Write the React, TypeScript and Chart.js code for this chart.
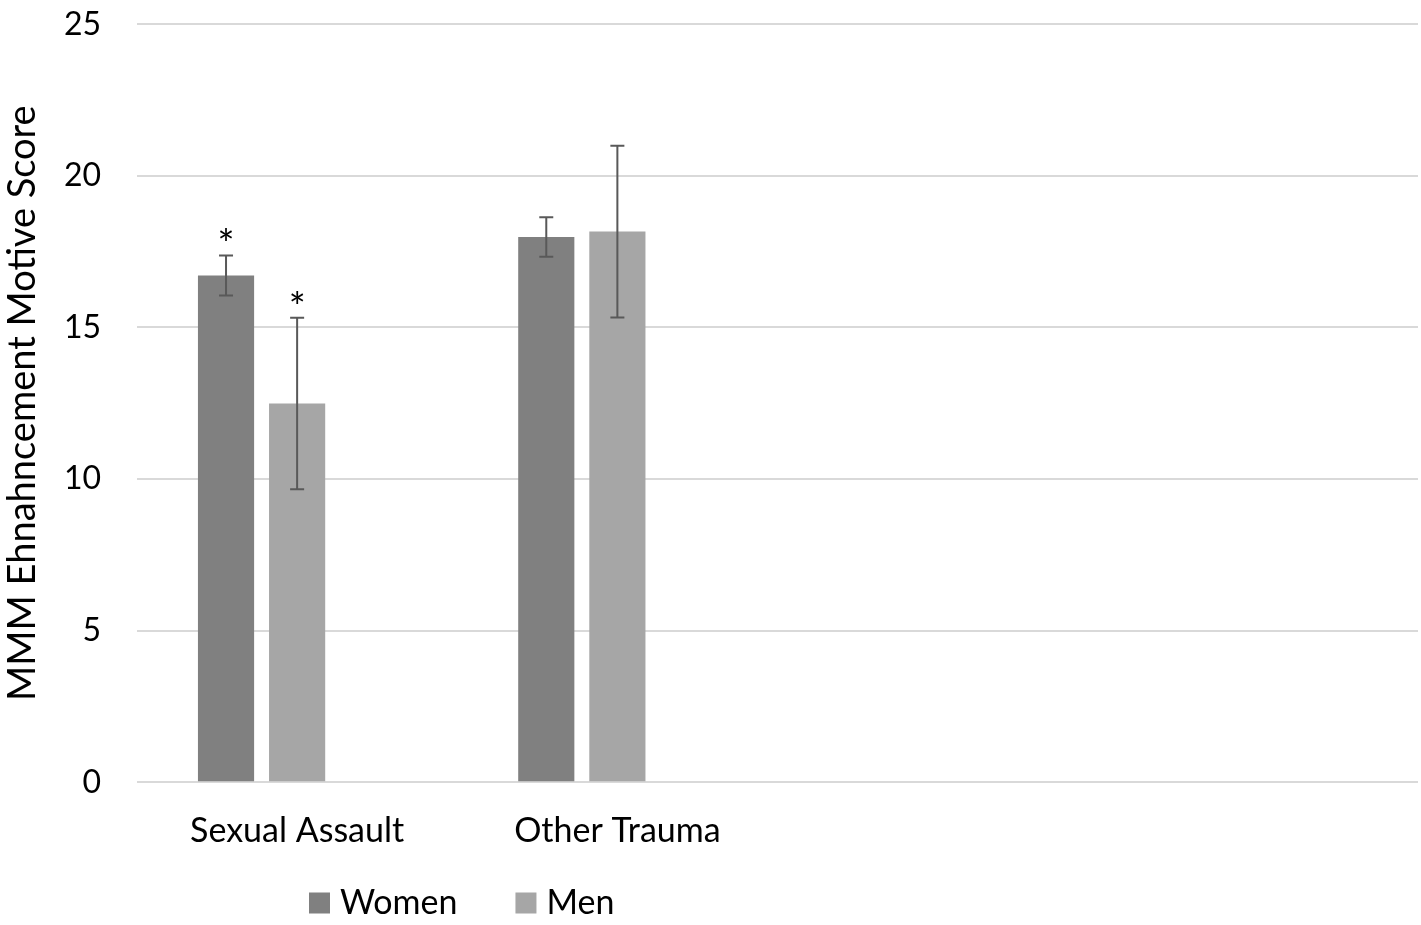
import { useEffect, useRef } from 'react'
import { Chart, registerables, Plugin } from 'chart.js'

Chart.register(...registerables)

const categories = ['Sexual Assault', 'Other Trauma', '', '']
const women = [16.71, 17.98, null, null]
const men = [12.49, 18.16, null, null]
const womenErr = [0.66, 0.65, 0, 0]
const menErr = [2.83, 2.83, 0, 0]
const womenSig = ['*', '', '', '']
const menSig = ['*', '', '', '']
const yTicks = [0, 5, 10, 15, 20, 25]

const FONT = 'Lato, "Open Sans", sans-serif'

const errors = [womenErr, menErr]
const marks = [womenSig, menSig]

// draws error bars and significance stars on top of the bars
const errorBarPlugin: Plugin<'bar'> = {
  id: 'errorBars',
  afterDatasetsDraw(chart) {
    const ctx = chart.ctx
    const y = chart.scales.y
    ctx.save()
    errors.forEach((errs, di) => {
      const meta = chart.getDatasetMeta(di)
      const values = chart.data.datasets[di].data as (number | null)[]
      meta.data.forEach((bar, i) => {
        const v = values[i]
        if (v == null) return
        const x = bar.x
        const top = y.getPixelForValue(v + errs[i])
        const bottom = y.getPixelForValue(v - errs[i])
        ctx.strokeStyle = '#595959'
        ctx.lineWidth = 2
        ctx.beginPath()
        ctx.moveTo(x, top)
        ctx.lineTo(x, bottom)
        ctx.moveTo(x - 7, top)
        ctx.lineTo(x + 7, top)
        ctx.moveTo(x - 7, bottom)
        ctx.lineTo(x + 7, bottom)
        ctx.stroke()
        const sig = marks[di][i]
        if (sig) {
          ctx.fillStyle = '#000'
          ctx.font = `40px ${FONT}`
          ctx.textAlign = 'center'
          ctx.textBaseline = 'middle'
          ctx.fillText(sig, x, top - 9)
        }
      })
    })
    ctx.restore()
  },
}

// simple bottom legend, placed under the first two groups like the Excel original
const bottomLegend: Plugin<'bar'> = {
  id: 'bottomLegend',
  afterDraw(chart) {
    const ctx = chart.ctx
    const box = 21
    let x = 309
    const yMid = 903
    ctx.save()
    ctx.font = `34px ${FONT}`
    ctx.textBaseline = 'middle'
    ctx.textAlign = 'left'
    chart.data.datasets.forEach(ds => {
      if (!ds.label) return
      ctx.fillStyle = ds.backgroundColor as string
      ctx.fillRect(x, yMid - box / 2, box, box)
      ctx.fillStyle = '#000'
      ctx.fillText(ds.label, x + box + 10, yMid)
      x += box + 10 + ctx.measureText(ds.label).width + 58
    })
    ctx.restore()
  },
}

export default function App() {
  const canvasRef = useRef<HTMLCanvasElement>(null)
  const chartRef = useRef<Chart | null>(null)

  useEffect(() => {
    if (!canvasRef.current) return
    if (chartRef.current) chartRef.current.destroy()

    chartRef.current = new Chart(canvasRef.current, {
      type: 'bar',
      data: {
        labels: categories,
        datasets: [
          {
            label: 'Women',
            data: women,
            backgroundColor: '#808080',
            barPercentage: 0.79,
            categoryPercentage: 0.666,
          },
          {
            label: 'Men',
            data: men,
            backgroundColor: '#a6a6a6',
            barPercentage: 0.79,
            categoryPercentage: 0.666,
          },
          {
            // empty slot that keeps the Excel-like spacing
            label: '',
            data: [],
            backgroundColor: 'transparent',
            barPercentage: 0.79,
            categoryPercentage: 0.666,
          },
        ],
      },
      options: {
        responsive: true,
        maintainAspectRatio: false,
        animation: false,
        layout: { padding: { top: 0, right: 3, bottom: 54, left: 0 } },
        scales: {
          x: {
            grid: { display: false },
            border: { display: false },
            ticks: {
              color: '#000',
              font: { family: FONT, size: 34 },
              padding: 20,
              maxRotation: 0,
              autoSkip: false,
            },
          },
          y: {
            min: 0,
            max: 25,
            afterBuildTicks(axis) {
              axis.ticks = yTicks.map(value => ({ value }))
            },
            afterFit(axis) {
              axis.width = 137
            },
            grid: {
              color: '#d9d9d9',
              lineWidth: 2,
              drawTicks: true,
              tickLength: 31,
              tickColor: 'rgba(0,0,0,0)',
            },
            border: { display: false },
            ticks: {
              color: '#000',
              font: { family: FONT, size: 32 },
              padding: 5,
            },
            title: {
              display: true,
              text: 'MMM Ehnahncement Motive Score',
              color: '#000',
              font: { family: FONT, size: 38 },
              padding: { top: 0, bottom: 0 },
            },
          },
        },
        plugins: {
          legend: { display: false },
          tooltip: { enabled: false },
        },
      },
      plugins: [errorBarPlugin, bottomLegend],
    })

    return () => {
      if (chartRef.current) {
        chartRef.current.destroy()
        chartRef.current = null
      }
    }
  }, [])

  return (
    <div style={{ position: 'fixed', left: 0, top: 0, width: 1421, height: 925, background: '#fff' }}>
      <canvas ref={canvasRef} />
    </div>
  )
}
